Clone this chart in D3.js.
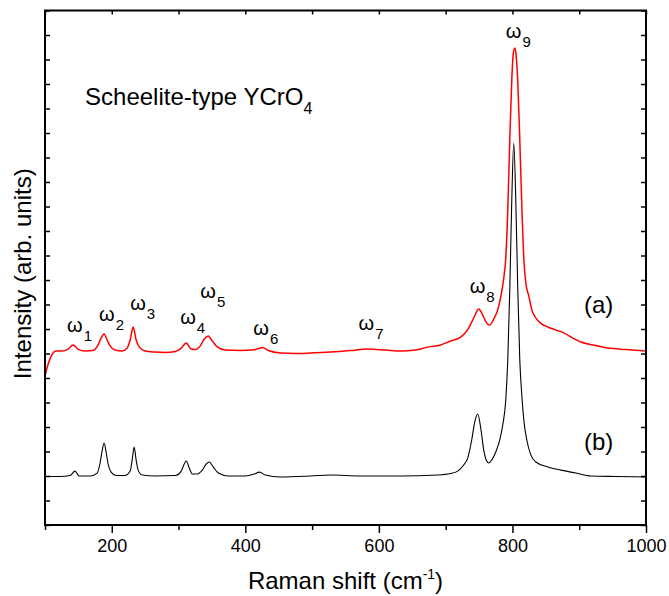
<!DOCTYPE html>
<html lang="en">
<head>
<meta charset="UTF-8" />
<title>Scheelite-type YCrO4 - Raman spectra</title>
<script src="https://d3js.org/d3.v7.min.js"></script>
<style>
    html, body { margin: 0; padding: 0; background: #fff; overflow: hidden; }
    svg { display: block; font-family: Arial, "Liberation Sans", sans-serif; }
</style>
</head>
<body>
<svg width="669" height="596"></svg>
<script>
// spectrum (a), red - Raman shift (cm-1) / intensity (arb. units)
const shiftA = [100, 103, 107.5, 112, 116.5, 125.5, 134.5, 142, 149.5, 160, 172, 179.5, 184, 188.5, 193, 197.5, 205,
    215.5, 223, 227.5, 232, 236.5, 241, 250, 265, 280, 295, 304, 311.5, 319, 325, 332.5, 338.5, 344.5, 350.5, 358,
    370, 392.5, 410.5, 419.5, 425.5, 434.5, 452.5, 475, 497.5, 527.5, 557.5, 583, 610, 632.5, 655, 674.5, 692.5,
    707.5, 722.5, 734.5, 742, 749.5, 755.5, 761.5, 766, 772, 778, 782.5, 787, 790, 793, 796, 799, 801, 803.5, 805.5,
    808, 811, 814, 817, 820, 824.5, 829, 835, 844, 853, 865, 877, 890.5, 902.5, 920.5, 943, 970, 1000];
const intensityA = [6.08, 6.41, 6.78, 7.02, 7.10, 7.10, 7.18, 7.35, 7.18, 7.10, 7.12, 7.35, 7.63, 7.80, 7.55, 7.31, 7.14,
    7.10, 7.22, 7.55, 8.08, 7.55, 7.27, 7.10, 7.06, 7.04, 7.08, 7.22, 7.43, 7.18, 7.16, 7.31, 7.59, 7.71, 7.51, 7.27,
    7.14, 7.12, 7.14, 7.20, 7.24, 7.12, 7.02, 7.00, 7.02, 7.06, 7.12, 7.18, 7.14, 7.10, 7.14, 7.27, 7.35,
    7.51, 7.67, 8.04, 8.45, 8.82, 8.57, 8.24, 8.16, 8.41, 8.78, 9.31, 10.08, 10.90, 12.86, 15.71, 18.16, 19.18, 19.47, 19.18,
    18.08, 15.71, 13.06, 10.90, 9.88, 9.35, 8.78, 8.45, 8.20, 8.08, 7.96, 7.84, 7.63, 7.47, 7.35, 7.22, 7.16, 7.10];

// spectrum (b), black
const shiftB = [100, 122.5, 137.5, 145, 151, 167.5, 178, 182.5, 185.5, 188.5, 191.5, 194.5, 199, 206.5, 220, 227.5,
    230.5, 233.5, 236.5, 239.5, 245.5, 265, 295, 304, 308.5, 311.5, 316, 320.5, 328, 335.5, 341.5, 346, 352, 359.5,
    374.5, 400, 413.5, 421, 430, 452.5, 497.5, 527.5, 572.5, 632.5, 688, 707.5, 718, 727, 733, 739, 743.5, 748,
    752.5, 757, 761.5, 764.5, 769, 775, 781, 785.5, 790, 793, 796, 799, 802, 805, 808, 811, 814, 817, 821.5, 827.5,
    835, 853, 872.5, 895, 917.5, 955, 1000];
const intensityB = [1.98, 1.98, 2.02, 2.20, 2.00, 2.00, 2.12, 2.53, 3.02, 3.35, 2.98, 2.49, 2.16, 2.02, 2.02, 2.20,
    2.65, 3.18, 2.65, 2.24, 2.04, 2.00, 2.02, 2.20, 2.49, 2.61, 2.33, 2.08, 2.08, 2.24, 2.49, 2.57, 2.37, 2.12,
    2.00, 2.00, 2.08, 2.16, 2.04, 1.96, 2.00, 2.04, 2.00, 2.00, 2.04, 2.10, 2.20, 2.45, 2.73, 3.47, 4.20, 4.53,
    3.96, 3.06, 2.61, 2.53, 2.65, 2.98, 3.47, 4.08, 5.10, 6.73, 9.59, 13.27, 15.59, 13.27, 9.59, 6.73, 5.31, 4.29, 3.47, 2.86,
    2.57, 2.37, 2.24, 2.12, 2.00, 1.98, 1.96];

// mode labels, anchored in data units (left edge / baseline)
const modeIndex = ["1", "2", "3", "4", "5", "6", "7", "8", "9"];
const modeShift = [133, 181, 227.5, 302.5, 332.5, 412, 569.5, 736, 790];
const modeLevel = [7.88, 8.33, 8.78, 8.20, 9.27, 7.76, 7.96, 9.47, 19.88];

const xTicksMajor = [200, 400, 600, 800, 1000];
const xTicksMinor = [100, 300, 500, 700, 900];
const yTicks = d3.range(0, 22);

const margin = { top: 10.5, right: 23, bottom: 71, left: 45 };
const W = 669, H = 596;
const svg = d3.select("svg");

const x = d3.scaleLinear().domain([100, 1000]).range([margin.left, W - margin.right]);
const y = d3.scaleLinear().domain([0, 21]).range([H - margin.bottom, margin.top]);

const line = d3.line().x(d => x(d[0])).y(d => y(d[1])).curve(d3.curveMonotoneX);

// spectra
svg.append("path")
    .datum(d3.zip(shiftB, intensityB))
    .attr("d", line)
    .attr("fill", "none")
    .attr("stroke", "#000")
    .attr("stroke-width", 1.1);

svg.append("path")
    .datum(d3.zip(shiftA, intensityA))
    .attr("d", line)
    .attr("fill", "none")
    .attr("stroke", "#ff0000")
    .attr("stroke-width", 1.5);

// axes
const axisBottom = svg.append("g").attr("transform", `translate(0,${y(0)})`);
axisBottom.call(d3.axisBottom(x).tickValues(xTicksMajor).tickSize(8).tickPadding(6).tickFormat(d3.format("d")));
const axisBottomMinor = svg.append("g").attr("transform", `translate(0,${y(0)})`);
axisBottomMinor.call(d3.axisBottom(x).tickValues(xTicksMinor).tickSize(5).tickFormat(""));

const axisTop = svg.append("g").attr("transform", `translate(0,${y(21)})`);
axisTop.call(d3.axisBottom(x).tickValues(xTicksMajor.concat(xTicksMinor)).tickSize(4).tickFormat(""));

const axisLeft = svg.append("g").attr("transform", `translate(${x(100)},0)`);
axisLeft.call(d3.axisRight(y).tickValues(yTicks).tickSize(5).tickFormat(""));
const axisRight = svg.append("g").attr("transform", `translate(${x(1000)},0)`);
axisRight.call(d3.axisLeft(y).tickValues(yTicks).tickSize(5).tickFormat(""));

svg.selectAll(".domain").remove();
svg.selectAll(".tick line").attr("stroke", "#000").attr("stroke-width", 1.5);
axisBottom.selectAll(".tick text").attr("font-size", 18).attr("fill", "#000").attr("font-family", "Arial, 'Liberation Sans', sans-serif");

// frame
svg.append("rect")
    .attr("x", x(100)).attr("y", y(21))
    .attr("width", x(1000) - x(100)).attr("height", y(0) - y(21))
    .attr("fill", "none").attr("stroke", "#000").attr("stroke-width", 2);

// axis titles
const xTitle = svg.append("text")
    .attr("x", (x(100) + x(1000)) / 2).attr("y", 589)
    .attr("text-anchor", "middle").attr("font-size", 24);
xTitle.append("tspan").text("Raman shift (cm");
xTitle.append("tspan").attr("font-size", 14).attr("dy", -10).text("-1");
xTitle.append("tspan").attr("dy", 10).text(")");

svg.append("text")
    .attr("transform", `translate(31,${(y(0) + y(21)) / 2 + 6}) rotate(-90)`)
    .attr("text-anchor", "middle").attr("font-size", 24)
    .text("Intensity (arb. units)");

// mode labels
modeIndex.forEach((k, i) => {
    const t = svg.append("text")
        .attr("x", x(modeShift[i])).attr("y", y(modeLevel[i]))
        .attr("font-size", 20);
    t.append("tspan").text("ω");
    t.append("tspan").attr("font-size", 15).attr("dx", 1).attr("dy", 9).text(k);
});

// sample label and spectrum tags
const sample = svg.append("text")
    .attr("x", x(160)).attr("y", y(17.14))
    .attr("font-size", 24);
sample.append("tspan").text("Scheelite-type YCrO");
sample.append("tspan").attr("font-size", 16).attr("dy", 9).text("4");

svg.append("text").attr("x", x(907)).attr("y", y(8.65)).attr("font-size", 24).text("(a)");
svg.append("text").attr("x", x(907)).attr("y", y(3.06)).attr("font-size", 24).text("(b)");
</script>
</body>
</html>
